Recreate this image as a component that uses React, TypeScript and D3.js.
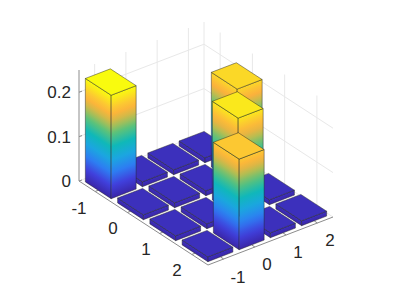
import React from "react";
import * as d3 from "d3";

const rowCats = [-1, 0, 1, 2];
const colCats = [-1, 0, 1, 2];
const zTicks = [0, 0.1, 0.2];
const row0 = [0.233, 0.011, 0.011, 0.011];
const row1 = [0.011, 0.011, 0.011, 0.213];
const row2 = [0.011, 0.011, 0.222, 0.011];
const row3 = [0.011, 0.204, 0.011, 0.011];
const matrix = [row0, row1, row2, row3];
const parulaPos = [0, 0.125, 0.25, 0.375, 0.5, 0.625, 0.72, 0.8, 0.875, 1];
const parulaStops = ["#3a26a8", "#4040dc", "#2d7df2", "#1ba6e0", "#0fb8b8", "#5cc27a", "#bcbd4e", "#fbb13c", "#fcc832", "#f9fb0e"];

const W = 399, H = 299;
const barWidth = 0.8;
const uS = d3.scaleLinear().domain([-1.5, 2.5]).range([0, 1]);
const vS = d3.scaleLinear().domain([-1.5, 2.5]).range([0, 1]);
const zS = d3.scaleLinear().domain([0, 0.25]).range([0, 111]);
const origin = [79, 181];
const uVec = [129, 84];
const vVec = [125, -48];
const P = (u: number, v: number, z: number): [number, number] => [
  origin[0] + uS(u) * uVec[0] + vS(v) * vVec[0],
  origin[1] + uS(u) * uVec[1] + vS(v) * vVec[1] - zS(z),
];
const zMax = d3.max(matrix.flat()) as number;
const cmap = d3.scaleLinear<string>()
  .domain(parulaPos)
  .range(parulaStops)
  .interpolate(d3.interpolateRgb);
const poly = (pts: [number, number][]) => pts.map((p) => p.join(",")).join(" ");
const line = (a: [number, number], b: [number, number], c: string, w = 1, key?: string) => (
  <line key={key} x1={a[0]} y1={a[1]} x2={b[0]} y2={b[1]} stroke={c} strokeWidth={w} />
);

function Face({ id, base0, base1, val }: { id: string; base0: [number, number, number]; base1: [number, number, number]; val: number }) {
  const b0 = P(base0[0], base0[1], 0), b1 = P(base1[0], base1[1], 0);
  const t0 = P(base0[0], base0[1], val), t1 = P(base1[0], base1[1], val);
  const dx = b1[0] - b0[0], dy = b1[1] - b0[1];
  const len = Math.hypot(dx, dy);
  const n = [-dy / len, dx / len];
  const s = (t0[0] - b0[0]) * n[0] + (t0[1] - b0[1]) * n[1];
  const end = [b0[0] + n[0] * s, b0[1] + n[1] * s];
  const frac = val / zMax;
  const stops = d3.range(0, 17).map((k) => k / 16);
  return (
    <>
      <defs>
        <linearGradient id={id} gradientUnits="userSpaceOnUse" x1={b0[0]} y1={b0[1]} x2={end[0]} y2={end[1]}>
          {stops.map((k) => <stop key={k} offset={k} stopColor={cmap(k * frac)} />)}
        </linearGradient>
      </defs>
      <polygon points={poly([b0, b1, t1, t0])} fill={`url(#${id})`} stroke="#222" strokeOpacity={0.65} strokeWidth={0.7} strokeLinejoin="round" />
    </>
  );
}

export default function App() {
  const grid = "#e8e8e8";
  const axis = "#8c8c8c";
  const txt = "#262626";
  const font = "'Liberation Sans', Arial, sans-serif";
  const ztop = zS.domain()[1];
  const cells: { i: number; j: number; val: number }[] = [];
  matrix.forEach((r, i) => r.forEach((val, j) => cells.push({ i, j, val })));
  cells.sort((a, b) => a.i - a.j - (b.i - b.j));
  const half = barWidth / 2;
  const uLabelPos: [number, number][] = [[79, 208], [113, 228], [146, 249], [177, 270]];
  const vLabelPos: [number, number][] = [[238, 277], [267, 264], [298, 252], [330, 240]];
  return (
    <svg width={W} height={H} style={{ position: "absolute", left: 0, top: 0, background: "#fff" }}>
      <g>
        {rowCats.map((c) => (
          <g key={c}>
            {line(P(c, -1.5, 0), P(c, 2.5, 0), grid)}
            {line(P(c, 2.5, 0), P(c, 2.5, ztop), grid)}
          </g>
        ))}
        {colCats.map((c) => (
          <g key={c}>
            {line(P(-1.5, c, 0), P(2.5, c, 0), grid)}
            {line(P(-1.5, c, 0), P(-1.5, c, ztop), grid)}
          </g>
        ))}
        {zTicks.map((z) => (
          <g key={z}>
            {line(P(-1.5, -1.5, z), P(-1.5, 2.5, z), grid)}
            {line(P(-1.5, 2.5, z), P(2.5, 2.5, z), grid)}
          </g>
        ))}
        {line(P(-1.5, 2.5, 0), P(-1.5, 2.5, ztop), grid)}
      </g>
      <g>
        {line(P(-1.5, -1.5, 0), P(-1.5, -1.5, ztop), axis)}
        {line(P(-1.5, -1.5, 0), P(2.5, -1.5, 0), axis)}
        {line(P(2.5, -1.5, 0), P(2.5, 2.5, 0), axis)}
        {zTicks.map((z) => {
          const p = P(-1.5, -1.5, z);
          return <line key={z} x1={p[0]} y1={p[1]} x2={p[0] + 3} y2={p[1] - 1} stroke={axis} />;
        })}
        {rowCats.map((c) => {
          const p = P(c, -1.5, 0);
          return <line key={c} x1={p[0]} y1={p[1]} x2={p[0] + 3} y2={p[1] - 1.2} stroke={axis} />;
        })}
        {colCats.map((c) => {
          const p = P(2.5, c, 0);
          return <line key={c} x1={p[0]} y1={p[1]} x2={p[0] - 3} y2={p[1] - 2} stroke={axis} />;
        })}
      </g>
      <g>
        {cells.map(({ i, j, val }) => {
          const u = rowCats[i], v = colCats[j];
          const u0 = u - half, u1 = u + half, v0 = v - half, v1 = v + half;
          return (
            <g key={`${i}-${j}`}>
              <Face id={`a${i}${j}`} base0={[u0, v0, 0]} base1={[u1, v0, 0]} val={val} />
              <Face id={`b${i}${j}`} base0={[u1, v0, 0]} base1={[u1, v1, 0]} val={val} />
              <polygon
                points={poly([P(u0, v0, val), P(u1, v0, val), P(u1, v1, val), P(u0, v1, val)])}
                fill={cmap(val / zMax)}
                stroke="#222"
                strokeOpacity={0.65}
                strokeWidth={0.7}
                strokeLinejoin="round"
              />
            </g>
          );
        })}
      </g>
      <g fontFamily={font} fontSize={17} fill={txt}>
        {zTicks.map((z) => (
          <text key={z} x={71} y={P(-1.5, -1.5, z)[1] + 6} textAnchor="end">{z === 0 ? "0" : z.toFixed(1)}</text>
        ))}
        {rowCats.map((c, k) => (
          <text key={c} x={uLabelPos[k][0]} y={uLabelPos[k][1] + 6} textAnchor="middle">{c}</text>
        ))}
        {colCats.map((c, k) => (
          <text key={c} x={vLabelPos[k][0]} y={vLabelPos[k][1] + 6} textAnchor="middle">{c}</text>
        ))}
      </g>
    </svg>
  );
}
